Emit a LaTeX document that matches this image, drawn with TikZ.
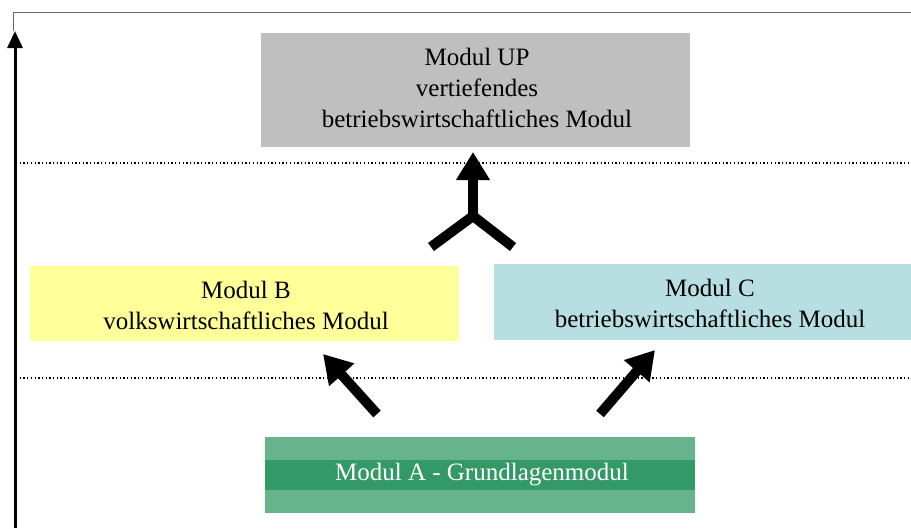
\documentclass[tikz,border=0pt]{standalone}
\usepackage{fontspec}
\setmainfont{Liberation Serif}
\usetikzlibrary{arrows.meta}
\definecolor{upgray}{HTML}{BFBFBF}
\definecolor{byellow}{HTML}{FFFF99}
\definecolor{cblue}{HTML}{B7DFE1}
\definecolor{agreenl}{HTML}{66B38C}
\definecolor{agreend}{HTML}{339966}
\tikzset{
  modbox/.style={draw=none, inner sep=0pt, outer sep=0pt, align=center, font=\fontsize{25}{31}\selectfont},
  modtext/.style={inner sep=0pt, outer sep=0pt, align=center, font=\fontsize{25}{31}\selectfont},
  bigarrow/.style={line width=10pt, -{Triangle[width=32pt,length=28pt]}},
  dotline/.style={line width=1.3pt, dash pattern=on 1.3pt off 2.4pt},
}
\begin{document}
\begin{tikzpicture}[x=1pt,y=-1pt]
\useasboundingbox (0,0) rectangle (911,528);
% frame and axis
\coordinate (axb) at (15,528);
\coordinate (axt) at (15,31);
\coordinate (fr1) at (13.5,31);
\coordinate (fr2) at (13.5,12.5);
\coordinate (fr3) at (911,12.5);
\draw[gray!80!black, line width=1.5pt] (fr1) -- (fr2) -- (fr3);
\draw[line width=3pt, -{Triangle[width=15pt,length=17pt]}] (axb) -- (axt);
% dotted separators
\coordinate (d1a) at (16,163); \coordinate (d1b) at (911,163);
\coordinate (d2a) at (16,378); \coordinate (d2b) at (911,378);
\draw[dotline] (d1a) -- (d1b);
\draw[dotline] (d2a) -- (d2b);
% boxes
\node[modbox, fill=upgray, minimum width=429pt, minimum height=114pt] (up) at (475.5,90) {};
\node[modtext] (uptext) at (477,88)
  {Modul UP\\vertiefendes\\betriebswirtschaftliches Modul};
\node[modbox, fill=byellow, minimum width=429pt, minimum height=75pt] (b) at (244.5,303.5) {};
\node[modtext] (btext) at (246,305) {Modul B\\volkswirtschaftliches Modul};
\node[modbox, fill=cblue, minimum width=417pt, minimum height=76pt] (c) at (702.5,302) {};
\node[modtext] (ctext) at (710,303) {Modul C\\betriebswirtschaftliches Modul};
\node[modbox, fill=agreenl, minimum width=430pt, minimum height=76pt] (aout) at (480,475) {};
\node[modbox, fill=agreend, minimum width=430pt, minimum height=30pt] (a) at (480,475) {};
\node[modtext, text=white] (atext) at (482,475) {Modul A - Grundlagenmodul};
% Y arrow
\coordinate (yj) at (473,216);
\coordinate (yl) at (431,247);
\coordinate (yr) at (513,247);
\coordinate (yt) at (473,152);
\draw[line width=10pt, line join=miter] (yl) -- (yj) -- (yr);
\draw[bigarrow] (yj) -- (yt);
% diagonal arrows
\coordinate (la) at (377,414);
\coordinate (lt) at (323,354);
\coordinate (ra) at (600,414);
\coordinate (rt) at (655,350);
\draw[bigarrow] (la) -- (lt);
\draw[bigarrow] (ra) -- (rt);
\end{tikzpicture}
\end{document}
